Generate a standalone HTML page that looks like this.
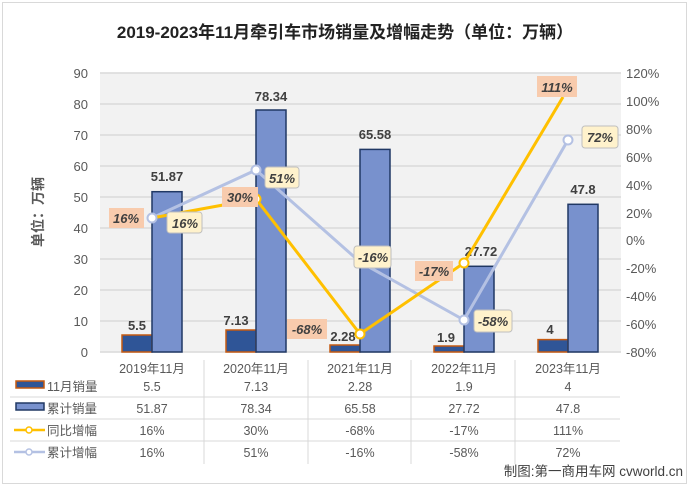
<!DOCTYPE html>
<html><head><meta charset="utf-8"><style>
body{margin:0;background:#fff}
svg text{font-family:"Liberation Sans","Noto Sans CJK SC",sans-serif}
</style></head><body>
<svg width="690" height="487" viewBox="0 0 690 487" xmlns="http://www.w3.org/2000/svg">
<rect x="0" y="0" width="690" height="487" fill="#fff"/>
<rect x="2.5" y="2.5" width="684" height="481" fill="#fff" stroke="#d9d9d9"/>
<text x="345" y="38" font-size="17" font-weight="bold" text-anchor="middle" fill="#222">2019-2023年11月牵引车市场销量及增幅走势（单位：万辆）</text>
<rect x="100" y="73" width="521" height="279" fill="#f2f2f2"/>
<g stroke="#d9d9d9" stroke-width="1.5">
<line x1="100" x2="621" y1="73" y2="73"/><line x1="100" x2="621" y1="104" y2="104"/><line x1="100" x2="621" y1="135" y2="135"/><line x1="100" x2="621" y1="166" y2="166"/><line x1="100" x2="621" y1="197" y2="197"/><line x1="100" x2="621" y1="228" y2="228"/><line x1="100" x2="621" y1="259" y2="259"/><line x1="100" x2="621" y1="290" y2="290"/><line x1="100" x2="621" y1="321" y2="321"/><line x1="100" x2="621" y1="352" y2="352"/>
</g>
<g font-size="13" fill="#595959" text-anchor="end">
<text x="88" y="78">90</text><text x="88" y="109">80</text><text x="88" y="140">70</text><text x="88" y="171">60</text><text x="88" y="202">50</text><text x="88" y="233">40</text><text x="88" y="264">30</text><text x="88" y="295">20</text><text x="88" y="326">10</text><text x="88" y="357">0</text>
</g>
<g font-size="13" fill="#595959" text-anchor="start">
<text x="626" y="78">120%</text><text x="626" y="106">100%</text><text x="626" y="134">80%</text><text x="626" y="162">60%</text><text x="626" y="190">40%</text><text x="626" y="218">20%</text><text x="626" y="245">0%</text><text x="626" y="273">-20%</text><text x="626" y="301">-40%</text><text x="626" y="329">-60%</text><text x="626" y="357">-80%</text>
</g>
<text transform="translate(43,212) rotate(-90)" font-size="14" font-weight="bold" fill="#595959" text-anchor="middle">单位：万辆</text>
<!-- bars -->
<g stroke="#c55a11" stroke-width="1.5" fill="#2f5597">
<rect x="122" y="335" width="30" height="17"/>
<rect x="226" y="330" width="30" height="22"/>
<rect x="330" y="345" width="30" height="7"/>
<rect x="434" y="346" width="30" height="6"/>
<rect x="538" y="339.6" width="30" height="12.4"/>
</g>
<g stroke="#203864" stroke-width="1.5" fill="#7891cd">
<rect x="152" y="191.7" width="30" height="160.3"/>
<rect x="256" y="110" width="30" height="242"/>
<rect x="360" y="149.4" width="30" height="202.6"/>
<rect x="464" y="266.3" width="30" height="85.7"/>
<rect x="568" y="204.3" width="30" height="147.7"/>
</g>
<g font-size="13" font-weight="bold" fill="#404040" text-anchor="middle">
<text x="137" y="330">5.5</text><text x="236" y="325">7.13</text><text x="343" y="341">2.28</text><text x="446" y="342">1.9</text><text x="550" y="334">4</text>
<text x="167" y="181">51.87</text><text x="271" y="101">78.34</text><text x="375" y="139">65.58</text><text x="481" y="256">27.72</text><text x="583" y="194">47.8</text>
</g>
<!-- lines -->
<polyline points="152,218 256,170 360,262 464,320 568,140" fill="none" stroke="#b4c1e3" stroke-width="3"/>
<polyline points="152,218 256,199 360,334 464,263 563,97" fill="none" stroke="#ffc000" stroke-width="3"/>
<g fill="#fff" stroke-width="2">
<circle cx="152" cy="218" r="4.5" stroke="#b4c1e3"/><circle cx="256" cy="170" r="4.5" stroke="#b4c1e3"/><circle cx="360" cy="262" r="4.5" stroke="#b4c1e3"/><circle cx="464" cy="320" r="4.5" stroke="#b4c1e3"/><circle cx="568" cy="140" r="4.5" stroke="#b4c1e3"/>
<circle cx="256" cy="199" r="4.5" stroke="#ffc000"/><circle cx="360" cy="334" r="4.5" stroke="#ffc000"/><circle cx="464" cy="263" r="4.5" stroke="#ffc000"/>
</g>
<!-- yellow series labels -->
<g font-size="13" font-weight="bold" font-style="italic" fill="#404040" text-anchor="middle">
<rect x="109" y="208" width="35" height="20" fill="#f8cbad"/><text x="126" y="223">16%</text>
<rect x="222" y="187" width="36" height="20" fill="#f8cbad"/><text x="240" y="202">30%</text>
<rect x="287" y="319" width="40" height="20" fill="#f8cbad"/><text x="307" y="334">-68%</text>
<rect x="415" y="261" width="38" height="20" fill="#f8cbad"/><text x="434" y="276">-17%</text>
<rect x="537" y="76" width="40" height="21" fill="#f8cbad"/><text x="557" y="92">111%</text>
</g>
<g font-size="13" font-weight="bold" font-style="italic" fill="#404040" text-anchor="middle" stroke-width="1">
<rect x="167" y="212" width="35" height="21" rx="3" fill="#fff2cc" stroke="#bfbfbf"/><text x="185" y="228" stroke="none">16%</text>
<rect x="265" y="167" width="34" height="21" rx="3" fill="#fff2cc" stroke="#bfbfbf"/><text x="282" y="183" stroke="none">51%</text>
<rect x="354" y="246" width="37" height="22" rx="3" fill="#fff2cc" stroke="#bfbfbf"/><text x="373" y="262" stroke="none">-16%</text>
<rect x="474" y="310" width="38" height="22" rx="3" fill="#fff2cc" stroke="#bfbfbf"/><text x="493" y="326" stroke="none">-58%</text>
<rect x="582" y="126" width="36" height="22" rx="3" fill="#fff2cc" stroke="#bfbfbf"/><text x="600" y="142" stroke="none">72%</text>
</g>
<!-- table -->
<g stroke="#d9d9d9" stroke-width="1">
<line x1="204" x2="204" y1="360" y2="464"/><line x1="308" x2="308" y1="360" y2="464"/><line x1="411" x2="411" y1="360" y2="464"/><line x1="515" x2="515" y1="360" y2="464"/>
<line x1="10" x2="620" y1="397" y2="397"/><line x1="10" x2="620" y1="419" y2="419"/><line x1="10" x2="620" y1="441" y2="441"/>
</g>
<g font-size="12.5" fill="#595959" text-anchor="middle">
<text x="152" y="373">2019年11月</text><text x="256" y="373">2020年11月</text><text x="360" y="373">2021年11月</text><text x="464" y="373">2022年11月</text><text x="568" y="373">2023年11月</text>
<text x="152" y="391">5.5</text><text x="256" y="391">7.13</text><text x="360" y="391">2.28</text><text x="464" y="391">1.9</text><text x="568" y="391">4</text>
<text x="152" y="413">51.87</text><text x="256" y="413">78.34</text><text x="360" y="413">65.58</text><text x="464" y="413">27.72</text><text x="568" y="413">47.8</text>
<text x="152" y="435">16%</text><text x="256" y="435">30%</text><text x="360" y="435">-68%</text><text x="464" y="435">-17%</text><text x="568" y="435">111%</text>
<text x="152" y="457">16%</text><text x="256" y="457">51%</text><text x="360" y="457">-16%</text><text x="464" y="457">-58%</text><text x="568" y="457">72%</text>
</g>
<g font-size="12.5" fill="#595959">
<rect x="16" y="381" width="28" height="7" fill="#2f5597" stroke="#c55a11" stroke-width="1.5"/><text x="47" y="391">11月销量</text>
<rect x="16" y="403" width="28" height="7" fill="#7891cd" stroke="#203864" stroke-width="1.5"/><text x="47" y="413">累计销量</text>
<line x1="14" x2="45" y1="430" y2="430" stroke="#ffc000" stroke-width="2.5"/><circle cx="29" cy="430" r="3" fill="#fff" stroke="#ffc000" stroke-width="1.5"/><text x="47" y="435">同比增幅</text>
<line x1="14" x2="45" y1="452" y2="452" stroke="#b4c1e3" stroke-width="2.5"/><circle cx="29" cy="452" r="3" fill="#fff" stroke="#b4c1e3" stroke-width="1.5"/><text x="47" y="457">累计增幅</text>
</g>
<text x="683" y="476" font-size="13.5" fill="#404040" text-anchor="end">制图:第一商用车网 cvworld.cn</text>
</svg>
</body></html>
